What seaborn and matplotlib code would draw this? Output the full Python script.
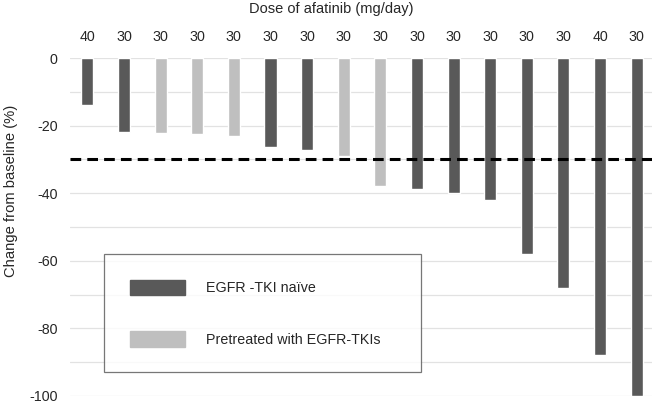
import matplotlib
matplotlib.use("Agg")
import matplotlib.pyplot as plt
import seaborn as sns
import pandas as pd
from matplotlib.patches import Patch

# values
patients = list(range(1, 17))
doses = ["40", "30", "30", "30", "30", "30", "30", "30", "30", "30", "30", "30", "30", "30", "40", "30"]
change = [-14, -22, -22.2, -22.5, -23, -26.3, -27.2, -29, -37.9, -38.8, -40, -42, -58, -68, -88, -100]
group = ["naive", "naive", "pre", "pre", "pre", "naive", "naive", "pre", "pre",
         "naive", "naive", "naive", "naive", "naive", "naive", "naive"]
labels = {"naive": "EGFR -TKI naïve", "pre": "Pretreated with EGFR-TKIs"}
colors = {"naive": "#595959", "pre": "#bfbfbf"}

df = pd.DataFrame({"patient": patients, "change": change, "group": group})

sns.set_style("white")
plt.rcParams["font.family"] = ["Liberation Sans", "DejaVu Sans"]
plt.rcParams["axes.unicode_minus"] = False

fig = plt.figure(figsize=(6.56, 4.04), dpi=100)
ax = fig.add_axes([0.107, 0.02, 0.887, 0.836])

sns.barplot(data=df, x="patient", y="change", hue="group", palette=colors,
            dodge=False, width=0.33, legend=False, ax=ax, saturation=1)

ax.set_ylim(-100, 0)
ax.set_xlim(-0.47, 15.42)
ax.set_yticks(range(-100, 1, 20))
ax.set_yticks(range(-100, 1, 10), minor=True)
ax.yaxis.grid(True, which="both", color="#e2e2e2", linewidth=0.9)
ax.set_axisbelow(True)

ax.axhline(-30, color="black", linestyle=(0, (3.5, 2)), linewidth=2.2, zorder=5)

ax.set_xticks(range(len(doses)))
ax.set_xticklabels(doses)
ax.xaxis.tick_top()
ax.xaxis.set_label_position("top")
ax.set_xlabel("Dose of afatinib (mg/day)", fontsize=10.5)
ax.xaxis.set_label_coords(0.448, 1.133)
ax.set_ylabel("Change from baseline (%)", fontsize=10.6)
ax.yaxis.set_label_coords(-0.09, 0.607)
ax.tick_params(axis="both", length=0, labelsize=10.3)
ax.tick_params(axis="x", pad=10)
ax.tick_params(axis="y", pad=9)

for s in ax.spines.values():
    s.set_visible(False)

handles = [Patch(facecolor=colors[k], edgecolor=colors[k], label=labels[k]) for k in ["naive", "pre"]]
leg = ax.legend(handles=handles, loc="lower left", bbox_to_anchor=(0.058, 0.07, 0.545, 0.345),
                mode="expand", fontsize=10.3, frameon=True, fancybox=False,
                handlelength=3.9, handleheight=1.3, labelspacing=2.5, borderpad=1.8,
                handletextpad=1.4, borderaxespad=0)
leg.get_frame().set_edgecolor("#555555")
leg.get_frame().set_linewidth(0.9)

fig.savefig("out.png", dpi=100)
